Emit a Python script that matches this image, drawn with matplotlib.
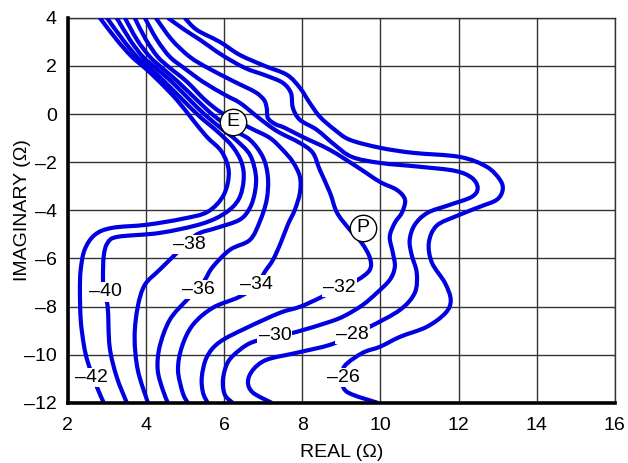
import matplotlib.pyplot as plt
from matplotlib.path import Path
from matplotlib.patches import PathPatch

# Contour lines: REAL (ohm) vs IMAGINARY (ohm)
levels = [-42, -40, -38, -36, -34, -32, -30, -28, -26]

c42_x = [2.82, 3.25, 3.64, 3.97, 4.35, 4.79, 5.20, 5.56, 5.94, 6.12, 5.99, 5.58, 4.94, 4.02, 3.13, 2.69, 2.43, 2.33, 2.31, 2.33, 2.41, 2.51, 2.72, 2.92]
c42_y = [4.00, 3.09, 2.38, 1.92, 1.34, 0.59, -0.24, -0.95, -1.57, -2.40, -3.36, -4.06, -4.35, -4.60, -4.73, -5.02, -5.64, -6.47, -7.30, -8.55, -9.59, -10.30, -11.25, -12.00]

c40_x = [3.00, 3.41, 3.77, 4.10, 4.48, 4.94, 5.38, 5.84, 6.22, 6.45, 6.50, 6.38, 6.04, 5.43, 4.35, 3.28, 3.02, 2.92, 2.90, 2.92, 3.02, 3.07, 3.25, 3.51]
c40_y = [4.00, 3.09, 2.38, 1.92, 1.34, 0.59, -0.11, -0.74, -1.36, -2.03, -2.73, -3.52, -4.10, -4.56, -4.94, -5.10, -5.35, -5.89, -6.81, -7.39, -8.01, -9.67, -10.92, -12.00]

c38_x = [3.25, 3.59, 3.92, 4.25, 4.66, 5.12, 5.51, 5.97, 6.30, 6.66, 6.81, 6.79, 6.66, 6.40, 5.81, 5.38, 5.12, 4.79, 4.35, 3.97, 3.79, 3.71, 3.79, 4.05]
c38_y = [4.00, 3.09, 2.38, 1.92, 1.34, 0.59, -0.03, -0.65, -1.07, -1.69, -2.52, -3.23, -3.90, -4.39, -4.73, -4.94, -5.23, -5.77, -6.47, -7.10, -8.01, -9.26, -10.63, -12.00]

c36_x = [3.46, 3.77, 4.10, 4.41, 4.82, 5.30, 5.71, 6.22, 6.66, 6.99, 7.12, 7.09, 6.91, 6.66, 6.15, 5.71, 5.51, 5.33, 5.05, 4.61, 4.35, 4.30, 4.43, 4.56]
c36_y = [4.00, 3.09, 2.38, 1.92, 1.34, 0.59, -0.03, -0.65, -1.07, -1.78, -2.61, -3.56, -4.48, -5.23, -5.64, -6.35, -6.89, -7.30, -7.72, -8.55, -9.67, -10.63, -11.46, -12.00]

c34_x = [3.71, 4.00, 4.30, 4.61, 5.05, 5.51, 5.94, 6.66, 7.17, 7.50, 7.76, 7.94, 7.94, 7.81, 7.63, 7.45, 7.25, 7.04, 6.84, 6.40, 5.71, 5.20, 4.92, 4.82, 4.94, 5.07]
c34_y = [4.00, 3.09, 2.38, 1.92, 1.34, 0.59, 0.05, -0.57, -0.99, -1.49, -1.99, -2.61, -3.27, -3.98, -4.60, -5.35, -6.06, -6.56, -7.10, -7.59, -8.05, -8.76, -9.67, -10.63, -11.58, -12.00]

c32_x = [3.97, 4.28, 4.61, 4.97, 5.46, 6.02, 6.40, 6.79, 7.12, 7.43, 7.94, 8.27, 8.45, 8.71, 8.89, 9.22, 9.52, 9.73, 9.73, 9.42, 8.96, 8.45, 7.94, 7.43, 6.58, 5.89, 5.56, 5.43, 5.46, 5.58]
c32_y = [4.00, 3.09, 2.38, 1.92, 1.34, 0.80, 0.47, -0.03, -0.45, -0.78, -1.20, -1.61, -2.32, -3.27, -4.10, -4.81, -5.35, -5.97, -6.47, -6.89, -7.22, -7.64, -8.01, -8.26, -8.88, -9.47, -10.09, -10.92, -11.58, -12.00]

c30_x = [4.25, 4.66, 5.12, 5.58, 6.27, 6.79, 7.02, 7.09, 7.12, 7.30, 7.55, 8.01, 8.71, 9.40, 9.99, 10.42, 10.63, 10.55, 10.37, 10.24, 10.32, 10.37, 10.24, 9.91, 9.55, 9.09, 8.71, 7.86, 7.30, 6.74, 6.40, 6.10, 5.97, 6.02, 6.22]
c30_y = [4.00, 3.09, 2.38, 1.92, 1.34, 0.92, 0.59, 0.26, -0.16, -0.41, -0.57, -0.95, -1.49, -2.19, -2.82, -3.15, -3.56, -4.10, -4.52, -5.10, -5.77, -6.35, -6.89, -7.43, -7.93, -8.38, -8.63, -9.05, -9.26, -9.47, -9.80, -10.30, -11.04, -11.67, -12.00]

c28_x = [4.56, 4.99, 5.38, 5.94, 6.53, 7.09, 7.50, 7.71, 7.76, 7.94, 8.37, 8.83, 9.27, 9.99, 11.01, 11.91, 12.34, 12.49, 12.34, 11.78, 11.21, 10.88, 10.75, 10.80, 10.93, 10.88, 10.50, 9.73, 9.29, 8.71, 7.86, 7.09, 6.74, 6.61, 6.74, 7.22]
c28_y = [4.00, 3.50, 3.09, 2.46, 1.92, 1.59, 1.30, 0.88, 0.26, -0.24, -0.65, -1.28, -1.78, -2.03, -2.19, -2.36, -2.65, -3.07, -3.44, -3.77, -4.10, -4.60, -5.23, -5.85, -6.60, -7.43, -8.14, -8.84, -9.17, -9.59, -9.92, -10.21, -10.63, -11.13, -11.58, -12.00]

c26_x = [4.99, 5.30, 5.89, 6.40, 7.04, 7.61, 7.94, 8.19, 8.45, 8.83, 9.22, 9.99, 10.83, 12.03, 12.72, 13.06, 13.13, 12.98, 12.55, 11.96, 11.44, 11.24, 11.32, 11.65, 11.80, 11.67, 11.19, 10.50, 9.99, 9.55, 9.09, 9.04, 9.14, 9.93]
c26_y = [4.00, 3.50, 3.00, 2.46, 2.00, 1.63, 1.09, 0.47, -0.11, -0.65, -1.07, -1.40, -1.61, -1.78, -2.19, -2.73, -3.15, -3.56, -3.85, -4.23, -4.64, -5.35, -6.18, -7.01, -7.72, -8.26, -8.84, -9.26, -9.67, -9.92, -10.46, -10.96, -11.54, -12.00]

contours_x = [c42_x, c40_x, c38_x, c36_x, c34_x, c32_x, c30_x, c28_x, c26_x]
contours_y = [c42_y, c40_y, c38_y, c36_y, c34_y, c32_y, c30_y, c28_y, c26_y]

# where each level is written on its line
label_x = [2.61, 2.95, 5.12, 5.33, 6.84, 8.96, 7.30, 9.29, 9.04]
label_y = [-10.96, -7.39, -5.43, -7.30, -7.10, -7.22, -9.22, -9.17, -10.96]

# marked points
marker_names = ["E", "P"]
marker_x = [6.22, 9.55]
marker_y = [-0.32, -4.73]

xticks = [2, 4, 6, 8, 10, 12, 14, 16]
yticks = [4, 2, 0, -2, -4, -6, -8, -10, -12]
ytick_labels = ["4", "2", "0", "–2", "–4", "–6", "–8", "–10", "–12"]


def smooth_path(xs, ys):
    # hand-drawn look: curve through the read points (Catmull-Rom as Bezier)
    pts = list(zip(xs, ys))
    verts = [pts[0]]
    codes = [Path.MOVETO]
    for i in range(len(pts) - 1):
        p0 = pts[i - 1] if i > 0 else pts[i]
        p1 = pts[i]
        p2 = pts[i + 1]
        p3 = pts[i + 2] if i + 2 < len(pts) else pts[i + 1]
        c1 = (p1[0] + (p2[0] - p0[0]) / 6, p1[1] + (p2[1] - p0[1]) / 6)
        c2 = (p2[0] - (p3[0] - p1[0]) / 6, p2[1] - (p3[1] - p1[1]) / 6)
        verts += [c1, c2, p2]
        codes += [Path.CURVE4] * 3
    return Path(verts, codes)


plt.rcParams["font.family"] = ["Liberation Sans Narrow", "Liberation Sans", "DejaVu Sans"]

fig = plt.figure(figsize=(6.28, 4.63), dpi=100)
ax = fig.add_axes([0.108, 0.130, 0.871, 0.8315])

blue = "#0000e0"
for xs, ys in zip(contours_x, contours_y):
    ax.add_patch(PathPatch(smooth_path(xs, ys), facecolor="none", edgecolor=blue,
                           lw=3, joinstyle="round", capstyle="butt", zorder=3))

for lev, lx, ly in zip(levels, label_x, label_y):
    ax.text(lx, ly, "–" + str(abs(lev)), fontsize=14, ha="center", va="center",
            zorder=4, bbox=dict(facecolor="white", edgecolor="none", pad=0.8))

for name, mx, my in zip(marker_names, marker_x, marker_y):
    ax.plot(mx, my, "o", ms=19, mfc="white", mec="black", mew=1.0, zorder=5)
    ax.text(mx, my, name, fontsize=14, ha="center", va="center", zorder=6)

ax.set_xlim(2, 16)
ax.set_ylim(-12, 4)
ax.set_xticks(xticks)
ax.set_yticks(yticks)
ax.set_yticklabels(ytick_labels)
ax.tick_params(length=0, labelsize=14)
ax.tick_params(axis="x", pad=10)
ax.tick_params(axis="y", pad=8)
ax.grid(color="#333333", lw=1.0, zorder=1)
ax.set_axisbelow(True)

for side in ["left", "bottom"]:
    ax.spines[side].set_linewidth(2.6)
    ax.spines[side].set_zorder(6)
for side in ["top", "right"]:
    ax.spines[side].set_linewidth(1.0)
    ax.spines[side].set_color("#333333")

ax.set_xlabel("REAL (Ω)", fontsize=14, va="center")
ax.set_ylabel("IMAGINARY (Ω)", fontsize=14, va="center")
ax.xaxis.set_label_coords(0.5, -0.128)
ax.yaxis.set_label_coords(-0.083, 0.5)

plt.savefig("out.png", dpi=100)
